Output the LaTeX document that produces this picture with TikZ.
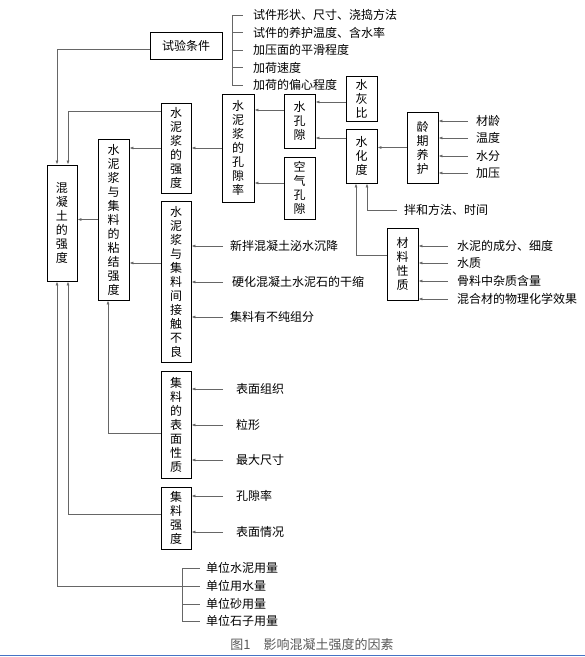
\documentclass[tikz,border=0pt]{standalone}
\usepackage{fontspec}
\newfontfamily\cjk{Noto Sans CJK SC}
\usetikzlibrary{arrows.meta}
\definecolor{rulebl}{RGB}{70,115,196}

\tikzset{
  box/.style={draw, line width=0.9pt, inner sep=0pt, align=center, font=\cjk\fontsize{12}{14}\selectfont},
  lbl/.style={anchor=west, inner xsep=#1, inner ysep=1pt, font=\cjk\fontsize{12}{14}\selectfont},
  lbl/.default=8pt,
  conn/.style={draw=black!60, line width=0.7pt},
}

\begin{document}
\begin{tikzpicture}[x=1pt,y=-1pt,>={Latex[length=4pt,width=3pt]}]
\useasboundingbox (0,0) rectangle (585,657);

% boxes
\node[box,minimum width=72pt,minimum height=27pt] (cond) at (186,45.5) {试验条件};
\node[box,minimum width=30pt,minimum height=116pt] (conc) at (62,223) {混\\凝\\土\\的\\强\\度};
\node[box,minimum width=30pt,minimum height=90pt] (pstr) at (176,148) {水\\泥\\浆\\的\\强\\度};
\node[box,minimum width=31pt,minimum height=161pt] (bond) at (113.5,219.5) {水\\泥\\浆\\与\\集\\料\\的\\粘\\结\\强\\度};
\node[box,minimum width=32pt,minimum height=108pt] (pporo) at (238,148) {水\\泥\\浆\\的\\孔\\隙\\率};
\node[box,minimum width=31pt,minimum height=45pt] (wcr) at (361.5,98.5) {水\\灰\\比};
\node[box,minimum width=31pt,minimum height=54pt] (wpore) at (299.5,121) {水\\孔\\隙};
\node[box,minimum width=31pt,minimum height=62pt] (apore) at (299.5,188) {空\\气\\孔\\隙};
\node[box,minimum width=31pt,minimum height=54pt] (hyd) at (361.5,156) {水\\化\\度};
\node[box,minimum width=31pt,minimum height=71pt] (cure) at (422.5,147.5) {龄\\期\\养\\护};
\node[box,minimum width=31pt,minimum height=72pt] (mat) at (402.5,264) {材\\料\\性\\质};
\node[box,minimum width=30pt,minimum height=161pt] (cont) at (176,281.5) {水\\泥\\浆\\与\\集\\料\\间\\接\\触\\不\\良};
\node[box,minimum width=30pt,minimum height=107pt] (surf) at (176,424.5) {集\\料\\的\\表\\面\\性\\质};
\node[box,minimum width=30pt,minimum height=62pt] (agg) at (176,518) {集\\料\\强\\度};

% labels
\node[lbl=10pt] (t1) at (243,15) {试件形状、尺寸、浇捣方法};
\node[lbl=10pt] (t2) at (243,32.5) {试件的养护温度、含水率};
\node[lbl=10pt] (t3) at (243,50) {加压面的平滑程度};
\node[lbl=10pt] (t4) at (243,67.5) {加荷速度};
\node[lbl=10pt] (t5) at (243,85) {加荷的偏心程度};

\node[lbl] (a1) at (468,121) {材龄};
\node[lbl] (a2) at (468,138) {温度};
\node[lbl] (a3) at (468,156) {水分};
\node[lbl] (a4) at (468,173) {加压};

\node[lbl=7pt] (mix) at (397,210) {拌和方法、时间};

\node[lbl=9pt] (m1) at (448,246) {水泥的成分、细度};
\node[lbl=9pt] (m2) at (448,263) {水质};
\node[lbl=9pt] (m3) at (448,281) {骨料中杂质含量};
\node[lbl=9pt] (m4) at (448,299) {混合材的物理化学效果};

\node[lbl=7pt] (k1) at (223,246) {新拌混凝土泌水沉降};
\node[lbl=9pt] (k2) at (223,282) {硬化混凝土水泥石的干缩};
\node[lbl=7pt] (k3) at (223,317) {集料有不纯组分};

\node[lbl=13pt] (s1) at (223,389) {表面组织};
\node[lbl=13pt] (s2) at (223,425) {粒形};
\node[lbl=13pt] (s3) at (223,460) {最大尺寸};

\node[lbl=13pt] (g1) at (223,496) {孔隙率};
\node[lbl=13pt] (g2) at (223,532) {表面情况};

\node[lbl=6pt] (u1) at (200,568) {单位水泥用量};
\node[lbl=6pt] (u2) at (200,586) {单位用水量};
\node[lbl=6pt] (u3) at (200,604) {单位砂用量};
\node[lbl=6pt] (u4) at (200,621) {单位石子用量};

\node[font=\cjk\fontsize{13}{14}\selectfont, text=black!65] (cap) at (312,645) {图1\quad 影响混凝土强度的因素};

% helper points
\coordinate (cTopL) at ([xshift=-5pt]conc.north);
\coordinate (cTopR) at ([xshift=6pt]conc.north);
\coordinate (cBotL) at ([xshift=-5pt]conc.south);
\coordinate (cBotR) at ([xshift=6pt]conc.south);
\coordinate (tb) at (232,15);
\coordinate (bb) at (182,568);

% brackets
\draw[conn] (tb |- t1.west) -- (tb |- t5.west);
\draw[conn] (tb |- t1.west) -- (t1.west);
\draw[conn] (tb |- t2.west) -- (t2.west);
\draw[conn] (tb |- t3.west) -- (t3.west);
\draw[conn] (tb |- t4.west) -- (t4.west);
\draw[conn] (tb |- t5.west) -- (t5.west);

\draw[conn] (bb |- u1.west) -- (bb |- u4.west);
\draw[conn] (bb |- u1.west) -- (u1.west);
\draw[conn] (bb |- u2.west) -- (u2.west);
\draw[conn] (bb |- u3.west) -- (u3.west);
\draw[conn] (bb |- u4.west) -- (u4.west);

% into the concrete strength
\draw[conn,->] ([yshift=-4pt]cond.west) -| (cTopL);
\draw[conn,->] ([yshift=-9pt]pstr.north west) -| (cTopR);
\draw[conn,->] (bond.west) -- (bond.west -| conc.east);
\draw[conn,->] ([yshift=4pt]agg.west) -| (cBotR);
\draw[conn,->] (bb |- u2.west) -| (cBotL);

% paste side
\draw[conn,->] (pporo.west) -- (pstr.east);
\draw[conn,->] (pstr.west) -- (pstr.west -| bond.east);
\draw[conn,->] ([yshift=18.5pt]cont.west) -- ([yshift=18.5pt]cont.west -| bond.east);
\draw[conn,->] ([yshift=-8.5pt]surf.west) -| ([xshift=-5.5pt]bond.south);

\draw[conn,->] ([yshift=-3.5pt]wcr.west) -- ([yshift=-3.5pt]wcr.west -| wpore.east);
\draw[conn,->] ([yshift=11pt]wpore.west) -- ([yshift=11pt]wpore.west -| pporo.east);
\draw[conn,->] ([yshift=18pt]hyd.west) -- ([yshift=18pt]hyd.west -| wpore.east);
\draw[conn,->] ([yshift=5pt]apore.west) -- ([yshift=5pt]apore.west -| pporo.east);
\draw[conn,->] (cure.west) -- (cure.west -| hyd.east);
\draw[conn,->] ([yshift=9pt]mat.west) -| ([xshift=-5.5pt]hyd.south);
\draw[conn,->] (mix.west) -| ([xshift=5.5pt]hyd.south);

% factor arrows
\draw[conn,->] (a1.west) -- (a1.west -| cure.east);
\draw[conn,->] (a2.west) -- (a2.west -| cure.east);
\draw[conn,->] (a3.west) -- (a3.west -| cure.east);
\draw[conn,->] (a4.west) -- (a4.west -| cure.east);

\draw[conn,->] (m1.west) -- (m1.west -| mat.east);
\draw[conn,->] (m2.west) -- (m2.west -| mat.east);
\draw[conn,->] (m3.west) -- (m3.west -| mat.east);
\draw[conn,->] (m4.west) -- (m4.west -| mat.east);

\draw[conn,->] (k1.west) -- (k1.west -| cont.east);
\draw[conn,->] (k2.west) -- (k2.west -| cont.east);
\draw[conn,->] (k3.west) -- (k3.west -| cont.east);

\draw[conn,->] (s1.west) -- (s1.west -| surf.east);
\draw[conn,->] (s2.west) -- (s2.west -| surf.east);
\draw[conn,->] (s3.west) -- (s3.west -| surf.east);

\draw[conn,->] (g1.west) -- (g1.west -| agg.east);
\draw[conn,->] (g2.west) -- (g2.west -| agg.east);

\draw[rulebl, line width=1.5pt] (0,655.5) -- (585,655.5);
\end{tikzpicture}
\end{document}
